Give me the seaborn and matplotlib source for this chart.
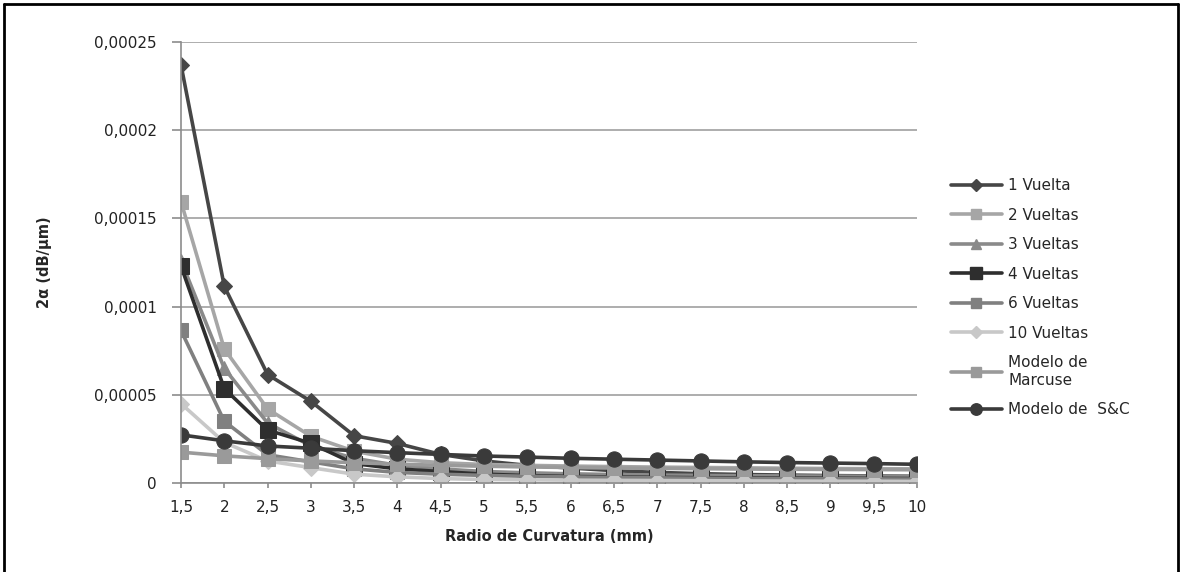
import numpy as np
import pandas as pd
import matplotlib
matplotlib.use("Agg")
import matplotlib.pyplot as plt
import seaborn as sns
from matplotlib.lines import Line2D

radio = [1.5, 2, 2.5, 3, 3.5, 4, 4.5, 5, 5.5, 6, 6.5, 7, 7.5, 8, 8.5, 9, 9.5, 10]
x_labels = ["1,5", "2", "2,5", "3", "3,5", "4", "4,5", "5", "5,5", "6",
            "6,5", "7", "7,5", "8", "8,5", "9", "9,5", "10"]

v1 = [2.37e-4, 1.115e-4, 6.15e-5, 4.63e-5, 2.68e-5, 2.24e-5, 1.62e-5, 1.25e-5, 1.0e-5,
      8.5e-6, 7.0e-6, 6.0e-6, 5.3e-6, 4.8e-6, 4.5e-6, 4.2e-6, 4.0e-6, 3.8e-6]
v2 = [1.595e-4, 7.6e-5, 4.2e-5, 2.65e-5, 1.8e-5, 1.35e-5, 1.15e-5, 1.05e-5, 1.0e-5,
      9.6e-6, 9.3e-6, 9.0e-6, 8.8e-6, 8.6e-6, 8.4e-6, 8.2e-6, 8.1e-6, 8.0e-6]
v3 = [1.26e-4, 6.5e-5, 3.4e-5, 2.1e-5, 1.4e-5, 1.0e-5, 8.0e-6, 6.5e-6, 5.8e-6,
      5.2e-6, 4.8e-6, 4.5e-6, 4.3e-6, 4.1e-6, 4.0e-6, 3.9e-6, 3.8e-6, 3.7e-6]
v4 = [1.23e-4, 5.35e-5, 3.0e-5, 2.25e-5, 1.1e-5, 8.0e-6, 6.5e-6, 5.0e-6, 4.2e-6,
      3.7e-6, 3.4e-6, 3.2e-6, 3.0e-6, 2.9e-6, 2.8e-6, 2.7e-6, 2.6e-6, 2.5e-6]
v6 = [8.65e-5, 3.5e-5, 1.6e-5, 1.2e-5, 8.0e-6, 6.0e-6, 5.0e-6, 4.3e-6, 3.8e-6,
      3.4e-6, 3.1e-6, 2.9e-6, 2.7e-6, 2.6e-6, 2.5e-6, 2.4e-6, 2.3e-6, 2.2e-6]
v10 = [4.5e-5, 2.3e-5, 1.25e-5, 8.7e-6, 5.0e-6, 3.5e-6, 2.5e-6, 2.0e-6, 1.8e-6,
       1.6e-6, 1.5e-6, 1.4e-6, 1.3e-6, 1.2e-6, 1.1e-6, 1.0e-6, 1.0e-6, 0.9e-6]
marcuse = [1.75e-5, 1.54e-5, 1.38e-5, 1.25e-5, 1.15e-5, 1.07e-5, 1.0e-5, 9.5e-6, 9.1e-6,
           8.8e-6, 8.5e-6, 8.3e-6, 8.1e-6, 7.9e-6, 7.8e-6, 7.7e-6, 7.6e-6, 7.5e-6]
sc = [2.73e-5, 2.39e-5, 2.1e-5, 1.97e-5, 1.83e-5, 1.72e-5, 1.62e-5, 1.53e-5, 1.47e-5,
      1.40e-5, 1.35e-5, 1.30e-5, 1.25e-5, 1.20e-5, 1.16e-5, 1.13e-5, 1.10e-5, 1.06e-5]

series_names = ["1 Vuelta", "2 Vueltas", "3 Vueltas", "4 Vueltas", "6 Vueltas",
                "10 Vueltas", "Modelo de\nMarcuse", "Modelo de  S&C"]
series_vals = [v1, v2, v3, v4, v6, v10, marcuse, sc]

y_ticks = [0, 0.00005, 0.0001, 0.00015, 0.0002, 0.00025]
y_labels = ["0", "0,00005", "0,0001", "0,00015", "0,0002", "0,00025"]

colors = ["#464646", "#a6a6a6", "#8a8a8a", "#2e2e2e", "#808080", "#c8c8c8", "#9a9a9a", "#3a3a3a"]
markers = ["D", "s", "^", "s", "s", "D", "s", "o"]
msizes = [8, 10, 10, 11, 10, 8, 10, 11]

rows = []
for name, vals in zip(series_names, series_vals):
    for xv, yv in zip(radio, vals):
        rows.append({"radio": xv, "valor": yv, "serie": name})
df = pd.DataFrame(rows)

sns.set_theme(style="white")
plt.rcParams['font.family'] = ['DejaVu Sans']

fig = plt.figure(figsize=(11.82, 5.72), dpi=100)
ax = fig.add_axes([181/1182, 89/572, 736/1182, 441/572])

for name, vals, c, m, ms in zip(series_names, series_vals, colors, markers, msizes):
    sub = df[df["serie"] == name]
    sns.lineplot(data=sub, x="radio", y="valor", ax=ax, color=c, marker=m,
                 markersize=ms, markeredgecolor=c, linewidth=2.6, legend=False,
                 estimator=None, sort=False)

ax.set_xlim(1.5, 10)
ax.set_ylim(0, 0.00025)
ax.set_xticks(radio)
ax.set_xticklabels(x_labels, fontsize=11, color="#222222")
ax.set_yticks(y_ticks)
ax.set_yticklabels(y_labels, fontsize=11, color="#222222")
ax.yaxis.grid(True, color="#a0a0a0", linewidth=1.2)
ax.xaxis.grid(False)
ax.set_axisbelow(True)
for s in ["top", "right"]:
    ax.spines[s].set_visible(False)
for s in ["left", "bottom"]:
    ax.spines[s].set_color("#8c8c8c")
    ax.spines[s].set_linewidth(1.2)
ax.tick_params(axis="y", length=6.5, width=1.2, color="#8c8c8c", direction="out", left=True, pad=11)
ax.tick_params(axis="x", length=3.6, width=1.2, color="#8c8c8c", direction="out", bottom=True, pad=9)
ax.set_xlabel("Radio de Curvatura (mm)", fontsize=10.5, fontweight="bold", labelpad=10)
ax.set_ylabel("2α (dB/μm)", fontsize=10.5, fontweight="bold", labelpad=30)

handles = [Line2D([0], [0], color=c, marker=m, markersize=ms * 0.75, linewidth=2.6,
                  markeredgecolor=c) for c, m, ms in zip(colors, markers, msizes)]
leg = fig.legend(handles, series_names, loc="upper left", bbox_to_anchor=(945/1182, 1 - 172/572),
                 frameon=False, fontsize=11, handlelength=3.3, labelspacing=0.95,
                 handletextpad=0.45, borderaxespad=0)

# outer frame
fig.add_artist(Line2D([4/1182, 4/1182], [0, 1 - 4/572], transform=fig.transFigure, color="black", linewidth=2))
fig.add_artist(Line2D([4/1182, 1178/1182], [1 - 4/572, 1 - 4/572], transform=fig.transFigure, color="black", linewidth=2))
fig.add_artist(Line2D([1178/1182, 1178/1182], [0, 1 - 4/572], transform=fig.transFigure, color="black", linewidth=2))

fig.savefig("out.png", dpi=100)
